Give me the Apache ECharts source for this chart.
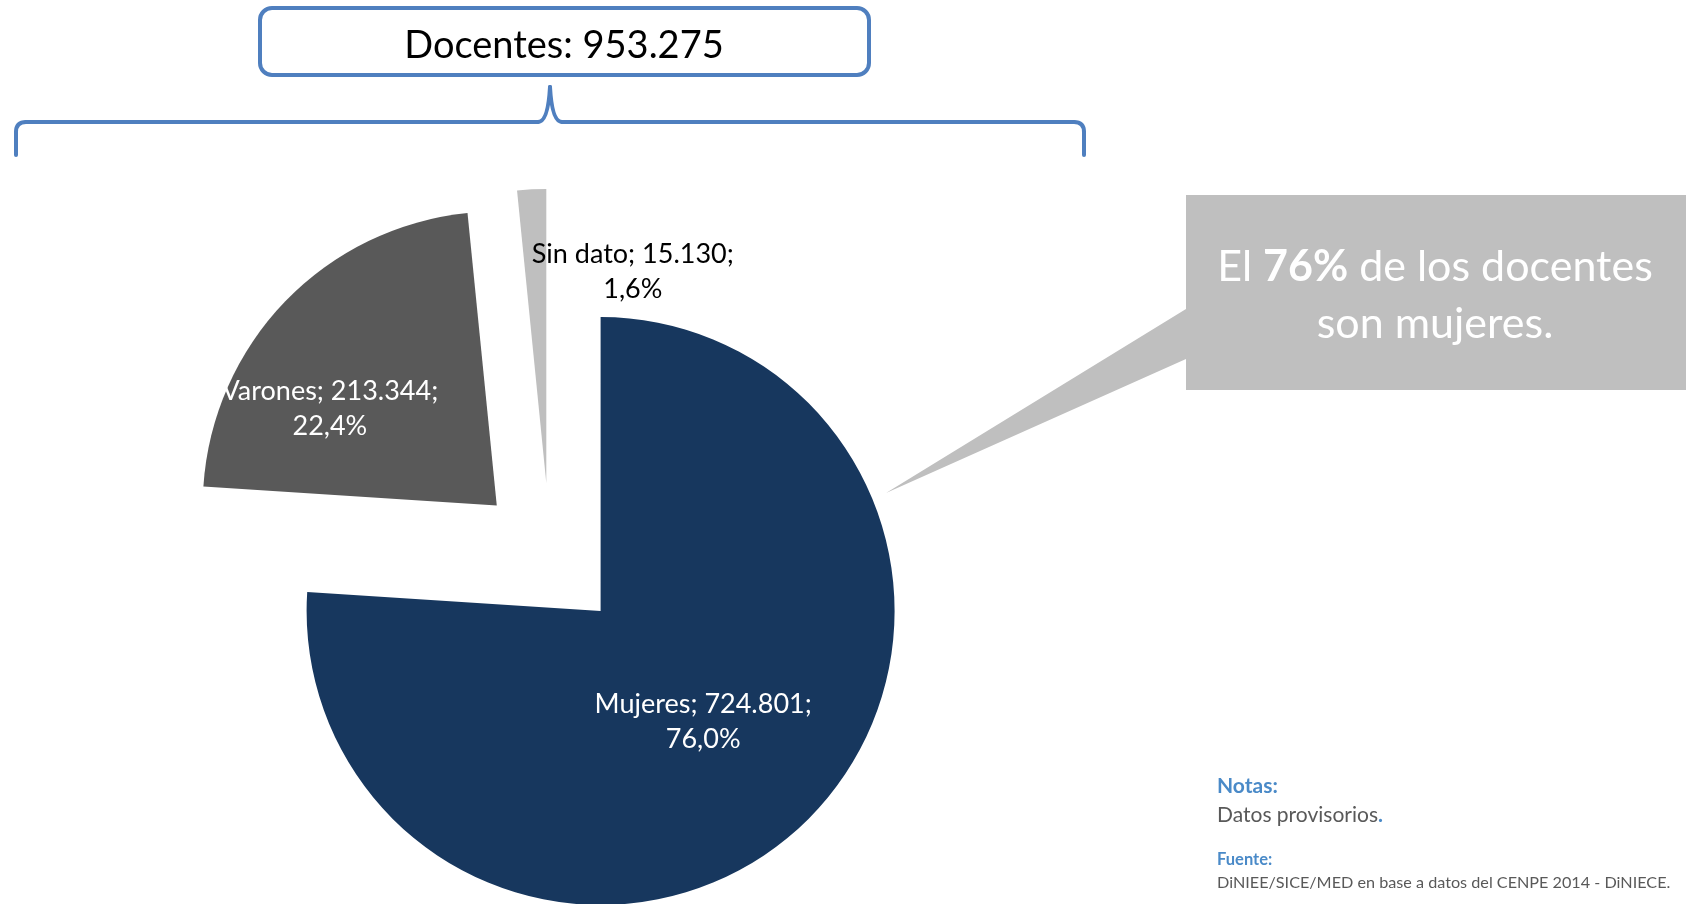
<!DOCTYPE html>
<html>
<head>
<meta charset="utf-8">
<title>Docentes por sexo</title>
<script src="https://cdn.jsdelivr.net/npm/echarts@6/dist/echarts.min.js"></script>
<style>
  html, body { margin: 0; padding: 0; background: #fff; }
  #chart { width: 1686px; height: 904px; }
</style>
</head>
<body>
<div id="chart"></div>
<script>
// data
const categories = ['Mujeres', 'Varones', 'Sin dato'];
const values = [724801, 213344, 15130];
const sliceColors = ['#17375E', '#595959', '#BFBFBF'];
const labelColors = ['#ffffff', '#ffffff', '#000000'];
const totalText = 'Docentes: 953.275';

const font = 'Lato, "Open Sans", sans-serif';
const blue = '#4F7FBF';

function thousands(v) {
    return String(v).replace(/\B(?=(\d{3})+(?!\d))/g, '.');
}

// Excel-like label placement nudges (px) per slice
const labelNudge = [[0, 1], [-59, 7], [94, -61]];

// brace drawn as lines + curves
const braceStyle = { fill: 'none', stroke: blue, lineWidth: 4, lineCap: 'round' };
function braceLine(x1, y1, x2, y2) {
    return { type: 'line', shape: { x1: x1, y1: y1, x2: x2, y2: y2 }, style: braceStyle };
}
function braceCurve(x1, y1, cx, cy, x2, y2) {
    return { type: 'bezierCurve', shape: { x1: x1, y1: y1, cpx1: cx, cpy1: cy, x2: x2, y2: y2 }, style: braceStyle };
}

const myChart = echarts.init(document.getElementById('chart'));

const option = {
    animation: false,
    backgroundColor: '#ffffff',
    series: [
        {
            type: 'pie',
            center: [550, 557],
            radius: 294,
            startAngle: 90,
            clockwise: true,
            selectedMode: 'multiple',
            selectedOffset: 74,
            avoidLabelOverlap: false,
            emphasis: { disabled: true },
            label: {
                show: true,
                position: 'inside',
                fontFamily: font,
                fontSize: 27,
                lineHeight: 35,
                formatter: function (p) {
                    return p.name + '; ' + thousands(p.value) + ';\n' +
                        p.percent.toFixed(1).replace('.', ',') + '%';
                }
            },
            labelLine: { show: false },
            labelLayout: function (params) {
                const n = labelNudge[params.dataIndex];
                return { dx: n[0], dy: n[1] };
            },
            data: categories.map(function (name, i) {
                return {
                    name: name,
                    value: values[i],
                    selected: true,
                    itemStyle: { color: sliceColors[i], borderWidth: 0 },
                    label: { color: labelColors[i] }
                };
            })
        }
    ],
    graphic: [
        // title box
        {
            type: 'rect',
            shape: { x: 260, y: 8, width: 609, height: 67, r: 12 },
            style: { fill: '#ffffff', stroke: blue, lineWidth: 4 }
        },
        {
            type: 'text',
            x: 564, y: 46,
            style: {
                text: totalText,
                fill: '#000000',
                font: '38px ' + font,
                textAlign: 'center',
                textVerticalAlign: 'middle'
            }
        },
        // curly brace
        braceLine(16, 155, 16, 132),
        braceCurve(16, 132, 16, 122, 26, 122),
        braceLine(26, 122, 538, 122),
        braceCurve(538, 122, 548, 122, 550, 87),
        braceCurve(550, 87, 552, 122, 562, 122),
        braceLine(562, 122, 1074, 122),
        braceCurve(1074, 122, 1084, 122, 1084, 132),
        braceLine(1084, 132, 1084, 155),
        // callout
        {
            type: 'polygon',
            shape: {
                points: [[1186, 195], [1686, 195], [1686, 390], [1186, 390],
                    [1186, 359], [886, 493], [1186, 309]]
            },
            style: { fill: '#BFBFBF' }
        },
        {
            type: 'text',
            x: 1435, y: 296,
            style: {
                text: 'El {b|76%} de los docentes\nson mujeres.',
                fill: '#ffffff',
                font: '43px ' + font,
                lineHeight: 57,
                textAlign: 'center',
                textVerticalAlign: 'middle',
                rich: {
                    b: { fontFamily: font, fontSize: 43, fontWeight: 'bold', fill: '#ffffff', lineHeight: 57 }
                }
            }
        },
        // notes
        {
            type: 'text',
            x: 1217, y: 786,
            style: {
                text: 'Notas:',
                fill: '#4A8AC8',
                font: 'bold 21px ' + font,
                textVerticalAlign: 'middle'
            }
        },
        {
            type: 'text',
            x: 1217, y: 815,
            style: {
                text: 'Datos provisorios{d|.}',
                fill: '#595959',
                font: '21px ' + font,
                textVerticalAlign: 'middle',
                rich: {
                    d: { fontFamily: font, fontSize: 21, fontWeight: 'bold', fill: '#4A8AC8' }
                }
            }
        },
        {
            type: 'text',
            x: 1217, y: 860,
            style: {
                text: 'Fuente:',
                fill: '#4A8AC8',
                font: 'bold 16.5px ' + font,
                textVerticalAlign: 'middle'
            }
        },
        {
            type: 'text',
            x: 1217, y: 883,
            style: {
                text: 'DiNIEE/SICE/MED en base a datos del CENPE 2014 - DiNIECE.',
                fill: '#595959',
                font: '16.2px ' + font,
                textVerticalAlign: 'middle'
            }
        }
    ]
};

myChart.setOption(option);
window.addEventListener('resize', myChart.resize);
</script>
</body>
</html>
